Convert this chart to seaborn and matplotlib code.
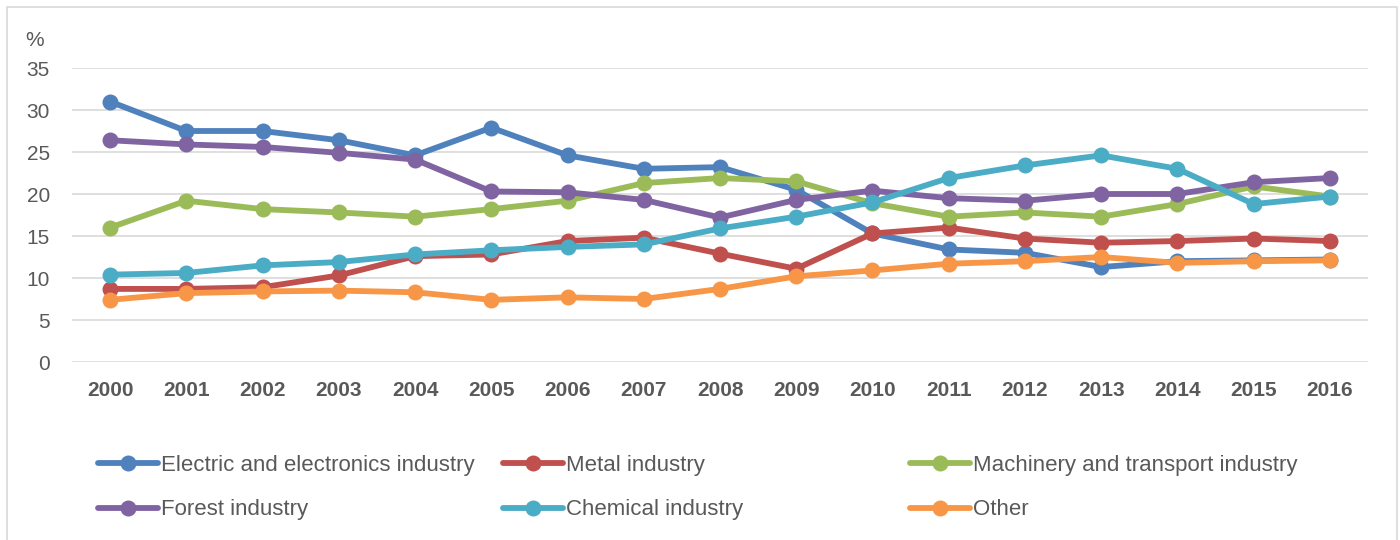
import matplotlib
matplotlib.use('Agg')
import matplotlib.pyplot as plt
import seaborn as sns
import pandas as pd
from matplotlib.patches import Rectangle

# ===== data =====
years = list(range(2000, 2017))
electric = [31.0, 27.5, 27.5, 26.4, 24.6, 27.9, 24.6, 23.0, 23.2, 20.5, 15.3, 13.4, 13.0, 11.3, 12.0, 12.1, 12.2]
metal = [8.7, 8.7, 8.9, 10.3, 12.6, 12.8, 14.4, 14.8, 12.9, 11.1, 15.3, 16.0, 14.7, 14.2, 14.4, 14.7, 14.4]
machinery = [16.0, 19.2, 18.2, 17.8, 17.3, 18.2, 19.2, 21.3, 21.9, 21.5, 18.9, 17.3, 17.8, 17.3, 18.8, 20.9, 19.7]
forest = [26.4, 25.9, 25.6, 24.9, 24.1, 20.3, 20.2, 19.3, 17.2, 19.3, 20.4, 19.5, 19.2, 20.0, 20.0, 21.4, 21.9]
chemical = [10.4, 10.6, 11.5, 11.9, 12.8, 13.3, 13.7, 14.0, 15.9, 17.3, 19.0, 21.9, 23.4, 24.6, 23.0, 18.8, 19.7]
other = [7.4, 8.2, 8.4, 8.5, 8.3, 7.4, 7.7, 7.5, 8.7, 10.2, 10.9, 11.7, 12.0, 12.5, 11.8, 12.0, 12.1]

series_names = ['Electric and electronics industry', 'Metal industry',
                'Machinery and transport industry', 'Forest industry',
                'Chemical industry', 'Other']
series_values = [electric, metal, machinery, forest, chemical, other]
colors = ['#4F81BD', '#C0504D', '#9BBB59', '#8064A2', '#4BACC6', '#F79646']

rows = []
for name, vals in zip(series_names, series_values):
    for i, v in enumerate(vals):
        rows.append({'pos': i, 'year': years[i], 'series': name, 'value': v})
df = pd.DataFrame(rows)

# ===== style =====
sns.set_theme(style='white')
plt.rcParams['font.family'] = ['Liberation Sans', 'DejaVu Sans']
text_color = '#595959'

fig = plt.figure(figsize=(14, 5.4), dpi=100)
ax = fig.add_axes([72 / 1400, 1 - 362 / 540, 1296 / 1400, 294 / 540])

sns.lineplot(data=df, x='pos', y='value', hue='series', hue_order=series_names,
             palette=colors, marker='o', markersize=11.5, markeredgewidth=0,
             linewidth=4.2, legend=False, ax=ax)

ax.set_xlim(-0.5, len(years) - 0.5)
ax.set_ylim(0, 35)
ax.set_yticks(range(0, 36, 5))
ax.set_xticks(range(len(years)))
ax.set_xticklabels([str(y) for y in years])
ax.set_xlabel('')
ax.set_ylabel('')
ax.yaxis.grid(True, color='#d9d9d9', linewidth=1.2)
ax.set_axisbelow(True)
for s in ax.spines.values():
    s.set_visible(False)
ax.tick_params(axis='both', length=0, labelsize=15, labelcolor=text_color)
ax.tick_params(axis='x', pad=14)
ax.tick_params(axis='y', pad=16)
for lbl in ax.get_xticklabels():
    lbl.set_fontweight('bold')

fig.text(35 / 1400, 1 - 40 / 540, '%', fontsize=15, color=text_color, ha='center', va='center')

# border around chart area
fig.patches.append(Rectangle((7 / 1400, -0.01), 1390 / 1400, 1 - 7 / 540 + 0.01,
                             transform=fig.transFigure, fill=False,
                             edgecolor='#d9d9d9', linewidth=1.2))

# legend: three columns placed by hand
col_x = [98, 503, 910]
columns = [[0, 3], [1, 4], [2, 5]]
for cx, idx in zip(col_x, columns):
    handles = [plt.Line2D([], [], color=colors[i], marker='o', markersize=11.5,
                          markeredgewidth=0, linewidth=4.2) for i in idx]
    fig.legend(handles, [series_names[i] for i in idx],
               loc='upper left', bbox_to_anchor=(cx / 1400, 1 - 455 / 540),
               frameon=False, fontsize=16, handlelength=2.7, handletextpad=0.15,
               labelspacing=1.05, borderaxespad=0, borderpad=0,
               labelcolor=text_color)

fig.savefig('out.png', dpi=100)
